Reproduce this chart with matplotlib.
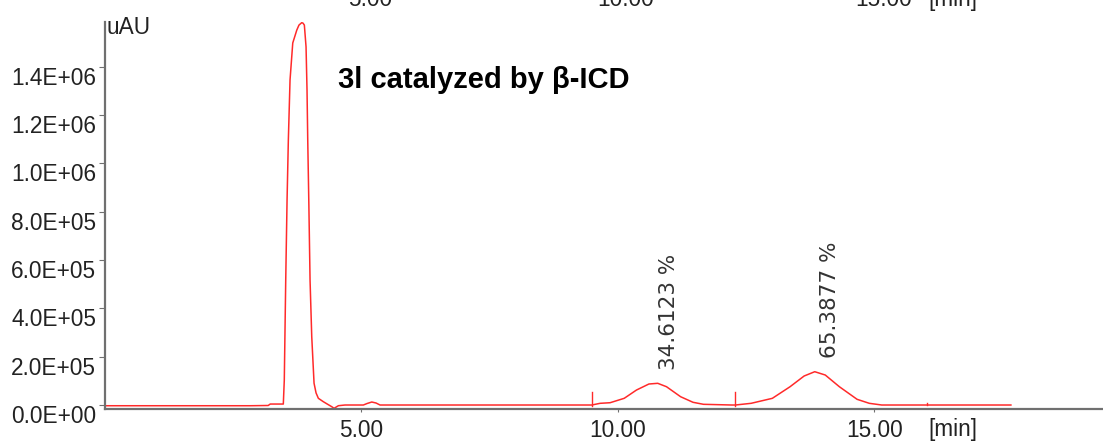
import numpy as np
import matplotlib
matplotlib.use("Agg")
import matplotlib.pyplot as plt

# chromatogram trace (time in min, signal in uAU)
time_min = [0.00, 2.84, 3.19, 3.23, 3.485, 3.504, 3.532, 3.558, 3.583, 3.616,
            3.669, 3.747, 3.790, 3.844, 3.869, 3.895, 3.928, 3.947, 3.961, 3.983,
            4.006, 4.039, 4.084, 4.123, 4.168, 4.265, 4.357, 4.429, 4.474, 4.558,
            4.688, 5.045, 5.117, 5.209, 5.292, 5.370,
            9.497, 9.659, 9.854, 10.129, 10.368, 10.610, 10.782, 10.953, 11.228,
            11.470, 11.674, 12.226,
            12.296, 12.602, 13.016, 13.361, 13.635, 13.842, 14.047, 14.322, 14.667,
            14.906, 15.148, 17.665]
signal_uau = [-3000, -3000, -2000, 4000, 4000, 103000, 517000, 848000, 1096000, 1345000,
              1498000, 1551000, 1572000, 1582000, 1580000, 1572000, 1482000, 1303000, 1096000, 827000,
              517000, 283000, 90000, 50000, 27700, 13700, 2000, -7000, -13700, -2900,
              0, 0, 6200, 12400, 8300, 0,
              0, 7000, 9500, 27700, 62000, 86900, 89800, 75700, 34300,
              11200, 2900, 0,
              0, 7000, 27700, 75700, 120000, 137800, 124100, 75700, 23600,
              7000, 0, 0]

# integration markers
marker_t = [9.497, 12.296]
marker_lo = -5000
marker_hi = 55000
end_marker_t = 16.03

# peak area labels
area_labels = ["34.6123 %", "65.3877 %"]
area_label_t = [11.00, 14.14]
area_label_y = [144800, 194400]

yticks = [0, 2e5, 4e5, 6e5, 8e5, 1e6, 1.2e6, 1.4e6]
ytick_labels = ["0.0E+00", "2.0E+05", "4.0E+05", "6.0E+05", "8.0E+05",
                "1.0E+06", "1.2E+06", "1.4E+06"]
xticks = [5, 10, 15]
xtick_labels = ["5.00", "10.00", "15.00"]

font = "Liberation Sans"
fs = 16.3
W, H = 1103, 446

fig = plt.figure(figsize=(W / 100, H / 100), dpi=100)
ax = fig.add_axes([104.5 / W, (H - 409) / H, 1 - 104.5 / W, (409 - 21.7) / H])

ax.plot(time_min, signal_uau, color="#ff2a2a", lw=1.1)
for t in marker_t:
    ax.plot([t, t], [marker_lo, marker_hi], color="#ff2a2a", lw=1.0)
ax.plot([end_marker_t, end_marker_t], [0, 8000], color="#ff2a2a", lw=1.0)

for lab, t, y in zip(area_labels, area_label_t, area_label_y):
    ax.text(t, y, lab, rotation=90, ha="center", va="bottom",
            fontsize=15.5, color="#333333", family="DejaVu Sans")

ax.set_xlim(0, 19.46)
ax.set_ylim(-16500, 1.586e6)

for s in ["top", "right"]:
    ax.spines[s].set_visible(False)
for s in ["left", "bottom"]:
    ax.spines[s].set_color("#707070")
    ax.spines[s].set_linewidth(1.6)

ax.set_yticks(yticks)
ax.set_yticklabels(ytick_labels, va="top", family=font, fontsize=fs, color="#222222")
ax.set_xticks(xticks)
ax.set_xticklabels(xtick_labels, family=font, fontsize=fs, color="#222222")
ax.tick_params(axis="y", direction="out", length=4, width=0.8, color="#707070", pad=2)
ax.tick_params(axis="x", direction="out", length=2.5, width=0.8, color="#707070", pad=4.5)

# unit labels
fig.text(107 / W, 1 - 16 / H, "uAU", ha="left", va="top", family=font,
         fontsize=fs, color="#222222")
fig.text(928 / W, 1 - 418 / H, "[min]", ha="left", va="top", family=font,
         fontsize=fs, color="#222222")

# cut-off copy of the time axis at the very top
for lab, xp in zip(xtick_labels + ["[min]"], [348, 597, 855, 928]):
    fig.text(xp / W, 1 - 6 / H, lab, ha="left", va="baseline", family=font,
             fontsize=fs, color="#222222")

fig.text(338 / W, 1 - 88 / H, "3l catalyzed by \u03b2-ICD", ha="left", va="baseline",
         family=font, fontweight="bold", fontsize=21, color="black")

fig.savefig("out.png", dpi=100)
